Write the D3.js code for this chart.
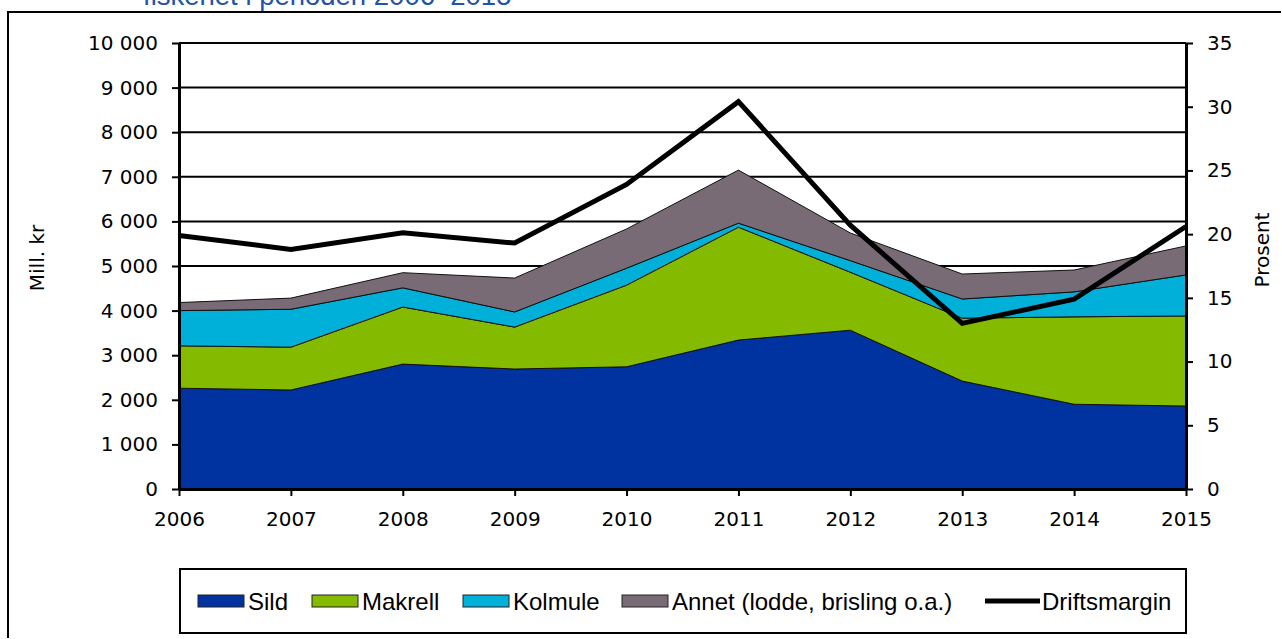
<!DOCTYPE html>
<html>
<head>
<meta charset="utf-8">
<script src="https://cdn.jsdelivr.net/npm/d3@7"></script>
<style>
  body { margin: 0; background: #fff; }
  svg { display: block; background: #fff; }
</style>
</head>
<body>
<div id="chart"></div>
<script>
// Variables
const width = 1282;
const height = 639;

const margin = { top: 43, right: 96, bottom: 150, left: 179 };
const innerWidth = 1186 - margin.left;
const innerHeight = 489 - margin.top;

const axisFont = 'DejaVu Sans, Verdana, sans-serif';
const legendFont = 'Liberation Sans, Arial, sans-serif';

// Data
const years = [2006, 2007, 2008, 2009, 2010, 2011, 2012, 2013, 2014, 2015];
const sild    = [2260, 2220, 2800, 2690, 2740, 3340, 3560, 2420, 1900, 1860];
const makrell = [ 950,  960, 1280,  940, 1830, 2530, 1300, 1410, 1960, 2020];
const kolmule = [ 790,  850,  430,  340,  380,   90,  260,  430,  560,  920];
const annet   = [ 180,  250,  340,  760,  880, 1190,  620,  560,  490,  650];
const driftsmargin = [19.9, 18.8, 20.1, 19.3, 23.9, 30.4, 20.7, 13.0, 14.9, 20.6];

const leftTicks = [0, 1000, 2000, 3000, 4000, 5000, 6000, 7000, 8000, 9000, 10000];
const rightTicks = [0, 5, 10, 15, 20, 25, 30, 35];

const seriesKeys = ['Sild', 'Makrell', 'Kolmule', 'Annet (lodde, brisling o.a.)'];
const seriesColors = ['#0033a0', '#84bb00', '#00b0d8', '#796b76'];
const lineLabel = 'Driftsmargin';

const titleText = 'fiskeriet i perioden 2006–2015';
const yAxisLabel = 'Mill. kr';
const y2AxisLabel = 'Prosent';

const table = years.map((yr, i) => ({
  year: yr,
  'Sild': sild[i],
  'Makrell': makrell[i],
  'Kolmule': kolmule[i],
  'Annet (lodde, brisling o.a.)': annet[i],
  margin: driftsmargin[i]
}));

const nf = d3.formatLocale({ decimal: ',', thousands: ' ', grouping: [3], currency: ['', ''] }).format(',d');

const svg = d3.select('#chart').append('svg')
  .attr('width', width)
  .attr('height', height);

// title, cut off at the top like in the source document
svg.append('text')
  .text(titleText)
  .attr('x', 143).attr('y', 5)
  .attr('font-family', legendFont)
  .attr('font-size', 27.5)
  .attr('fill', '#2352a6');

// outer frame (only left and top edges are inside the picture)
svg.append('path')
  .attr('d', `M8,${height - 1} V12 H${width - 1}`)
  .attr('fill', 'none').attr('stroke', '#000').attr('stroke-width', 2);

const g = svg.append('g').attr('transform', `translate(${margin.left},${margin.top})`);

// scales
const x = d3.scaleLinear().domain(d3.extent(years)).range([0, innerWidth]);
const y = d3.scaleLinear().domain([0, 10000]).range([innerHeight, 0]);
const y2 = d3.scaleLinear().domain([0, 35]).range([innerHeight, 0]);

// gridlines
g.append('g').selectAll('line').data(leftTicks.slice(1)).join('line')
  .attr('x1', 0).attr('x2', innerWidth)
  .attr('y1', d => y(d)).attr('y2', d => y(d))
  .attr('stroke', '#000').attr('stroke-width', 2);

// stacked areas
const stack = d3.stack().keys(seriesKeys);
const layers = stack(table);
const area = d3.area()
  .x(d => x(d.data.year))
  .y0(d => y(d[0]))
  .y1(d => y(d[1]));

g.append('g').selectAll('path').data(layers).join('path')
  .attr('d', area)
  .attr('fill', (d, i) => seriesColors[i])
  .attr('stroke', '#111')
  .attr('stroke-width', 1);

// axes
const xAxis = d3.axisBottom(x).tickValues(years).tickFormat(d3.format('d')).tickSizeInner(7).tickSizeOuter(0).tickPadding(16);
const yAxis = d3.axisLeft(y).tickValues(leftTicks).tickFormat(nf).tickSizeInner(7).tickSizeOuter(0).tickPadding(14);
const y2Axis = d3.axisRight(y2).tickValues(rightTicks).tickFormat(d3.format('d')).tickSizeInner(7).tickSizeOuter(0).tickPadding(14);

const styleAxis = sel => {
  sel.attr('font-size', 20).attr('font-family', axisFont);
  sel.select('.domain').attr('stroke', '#000').attr('stroke-width', 3);
  sel.selectAll('.tick line').attr('stroke', '#000').attr('stroke-width', 2);
  sel.selectAll('.tick text').attr('fill', '#000');
};

g.append('g').attr('transform', `translate(0,${innerHeight})`).call(xAxis).call(styleAxis);
g.append('g').call(yAxis).call(styleAxis);
g.append('g').attr('transform', `translate(${innerWidth},0)`).call(y2Axis).call(styleAxis);

// driftsmargin line
const line = d3.line().x(d => x(d.year)).y(d => y2(d.margin));
g.append('path').datum(table)
  .attr('d', line)
  .attr('fill', 'none')
  .attr('stroke', '#000')
  .attr('stroke-width', 5)
  .attr('stroke-linejoin', 'miter');

// axis titles
svg.append('text')
  .attr('transform', 'translate(44,258) rotate(-90)')
  .attr('text-anchor', 'middle')
  .attr('font-family', axisFont).attr('font-size', 20)
  .text(yAxisLabel);

svg.append('text')
  .attr('transform', 'translate(1269,250) rotate(-90)')
  .attr('text-anchor', 'middle')
  .attr('font-family', axisFont).attr('font-size', 20)
  .text(y2AxisLabel);

// legend
const legend = svg.append('g')
  .attr('font-family', legendFont).attr('font-size', 24);
legend.append('rect')
  .attr('x', 180).attr('y', 569)
  .attr('width', 1006).attr('height', 64)
  .attr('fill', '#fff').attr('stroke', '#000').attr('stroke-width', 2);

const legendX = [198, 312, 463, 622, 985];
const swW = 46, swH = 12, legY = 601;

seriesKeys.forEach((k, i) => {
  legend.append('rect')
    .attr('x', legendX[i]).attr('y', legY - swH / 2)
    .attr('width', swW).attr('height', swH)
    .attr('fill', seriesColors[i]).attr('stroke', '#222').attr('stroke-width', 1);
  legend.append('text')
    .attr('x', legendX[i] + swW + 4).attr('y', legY + 8.5)
    .text(k);
});
legend.append('line')
  .attr('x1', legendX[4]).attr('x2', legendX[4] + 55)
  .attr('y1', legY).attr('y2', legY)
  .attr('stroke', '#000').attr('stroke-width', 5);
legend.append('text')
  .attr('x', legendX[4] + 57).attr('y', legY + 8.5)
  .text(lineLabel);
</script>
</body>
</html>
